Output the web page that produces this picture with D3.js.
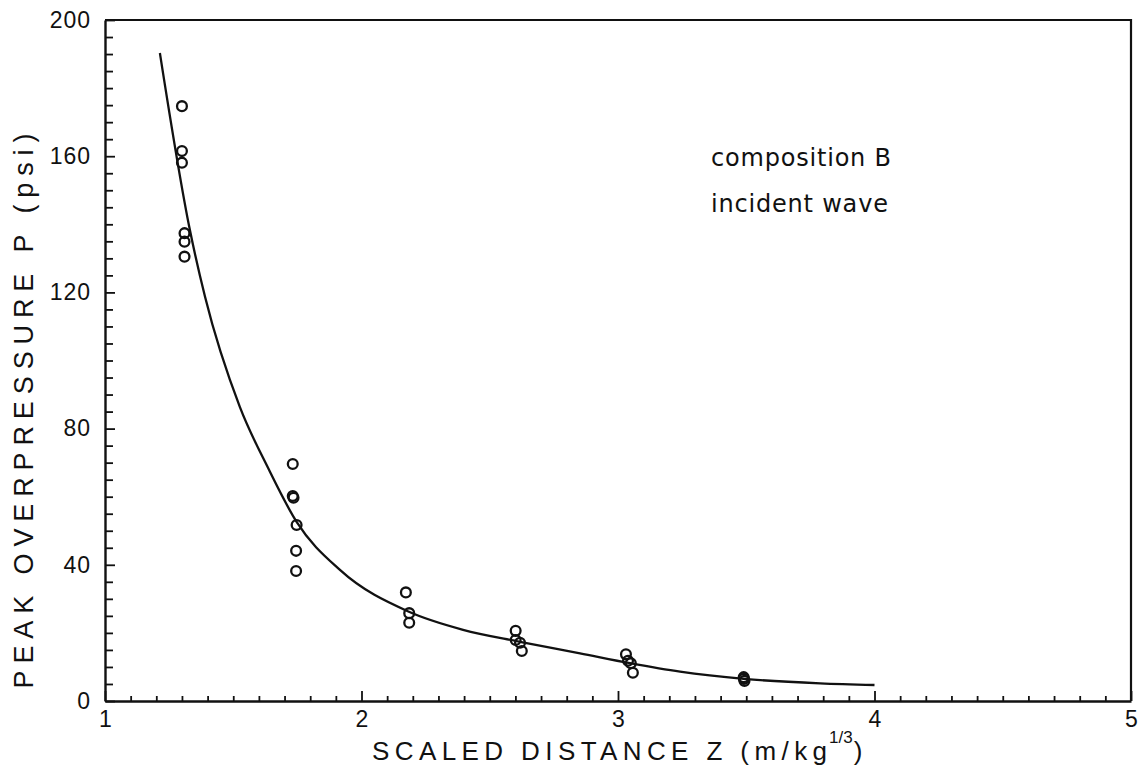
<!DOCTYPE html>
<html>
<head>
<meta charset="utf-8">
<script src="https://cdn.jsdelivr.net/npm/d3@7"></script>
<style>
  html, body { margin: 0; padding: 0; background: #fff; }
  svg { display: block; }
</style>
</head>
<body>
<svg id="chart" width="1145" height="784"></svg>
<script>
// ---- data ----
const xMajorTicks = [1, 2, 3, 4, 5];
const yMajorTicks = [0, 40, 80, 120, 160, 200];

const pointZ = [1.30, 1.30, 1.30, 1.31, 1.31, 1.31,
                1.732, 1.732, 1.735, 1.747, 1.745, 1.745,
                2.173, 2.186, 2.186,
                2.601, 2.601, 2.618, 2.625,
                3.031, 3.039, 3.050, 3.058,
                3.490, 3.491, 3.493];
const pointP = [174.7, 161.5, 158.1, 137.4, 134.9, 130.5,
                69.6, 60.2, 59.7, 51.7, 44.1, 38.2,
                31.9, 25.8, 23.0,
                20.6, 17.9, 17.1, 14.7,
                13.7, 11.8, 11.1, 8.3,
                7.0, 6.5, 5.9];

// fitted curve, read at points along the drawn line
const curveZ = [1.214, 1.331, 1.390, 1.526, 1.636, 1.747, 1.916, 2.185, 2.396,
                2.618, 2.852, 3.047, 3.242, 3.491, 3.788, 4.0];
const curveP = [190.3, 138.3, 118.7, 86.3, 68.4, 52.6, 38.5, 26.2, 20.9,
                17.4, 14.0, 11.1, 8.6, 6.5, 5.2, 4.7];

const annotation = ["composition B", "incident wave"];
const xTitle = "SCALED DISTANCE Z (m/kg";
const xTitleSup = "1/3";
const yTitle = "PEAK OVERPRESSURE P (psi)";

// ---- layout ----
const svg = d3.select("#chart");
const mLeft = 105, mRight = 1131, mTop = 20, mBottom = 701;

const x = d3.scaleLinear().domain([1, 5]).range([mLeft, mRight]);
const y = d3.scaleLinear().domain([0, 200]).range([mBottom, mTop]);

const ink = "#111";
const labelFont = "'Liberation Sans', Arial, sans-serif";

// frame (top and right lines)
svg.append("path")
  .attr("d", `M${mLeft},${mTop}H${mRight}V${mBottom}`)
  .attr("fill", "none").attr("stroke", ink).attr("stroke-width", 2.2);

// x axis: minor ticks
const xMinor = d3.range(10, 51).map(d => d / 10).filter(d => !xMajorTicks.includes(d));
svg.append("g").attr("transform", `translate(0,${mBottom})`)
  .call(d3.axisBottom(x).tickValues(xMinor).tickSizeInner(-5).tickSizeOuter(0).tickFormat(""))
  .call(g => g.select(".domain").remove())
  .call(g => g.selectAll("line").attr("stroke", ink).attr("stroke-width", 1.8));
// x axis: major ticks + labels
svg.append("g").attr("transform", `translate(0,${mBottom})`)
  .call(d3.axisBottom(x).tickValues(xMajorTicks).tickSizeInner(-10).tickSizeOuter(0).tickPadding(10).tickFormat(d3.format("d")))
  .call(g => g.select(".domain").attr("stroke", ink).attr("stroke-width", 2.4))
  .call(g => g.selectAll("line").attr("stroke", ink).attr("stroke-width", 1.8))
  .call(g => g.selectAll("text").attr("fill", ink).attr("font-family", labelFont).attr("font-size", 23));

// y axis: minor ticks
const yMinor = d3.range(0, 201, 5).filter(d => !yMajorTicks.includes(d));
svg.append("g").attr("transform", `translate(${mLeft},0)`)
  .call(d3.axisLeft(y).tickValues(yMinor).tickSizeInner(-8).tickSizeOuter(0).tickFormat(""))
  .call(g => g.select(".domain").remove())
  .call(g => g.selectAll("line").attr("stroke", ink).attr("stroke-width", 1.8));
// y axis: major ticks + labels
svg.append("g").attr("transform", `translate(${mLeft},0)`)
  .call(d3.axisLeft(y).tickValues(yMajorTicks).tickSizeInner(-10).tickSizeOuter(0).tickPadding(14).tickFormat(d3.format("d")))
  .call(g => g.select(".domain").attr("stroke", ink).attr("stroke-width", 2.4))
  .call(g => g.selectAll("line").attr("stroke", ink).attr("stroke-width", 1.8))
  .call(g => g.selectAll("text").attr("fill", ink).attr("font-family", labelFont)
    .attr("font-size", 23).attr("letter-spacing", 1));

// fitted curve
const line = d3.line()
  .x((d, i) => x(curveZ[i]))
  .y((d, i) => y(curveP[i]))
  .curve(d3.curveMonotoneX);
svg.append("path")
  .datum(curveZ)
  .attr("d", line)
  .attr("fill", "none").attr("stroke", ink).attr("stroke-width", 2.3);

// data points
svg.append("g").selectAll("circle")
  .data(pointZ)
  .join("circle")
  .attr("cx", (d, i) => x(pointZ[i]))
  .attr("cy", (d, i) => y(pointP[i]))
  .attr("r", 4.9)
  .attr("fill", "none").attr("stroke", ink).attr("stroke-width", 2.3);

// annotation
svg.append("g").selectAll("text")
  .data(annotation)
  .join("text")
  .attr("x", 711)
  .attr("y", (d, i) => 166 + i * 46)
  .attr("font-family", "'DejaVu Sans', sans-serif")
  .attr("font-size", 24)
  .attr("fill", ink)
  .attr("letter-spacing", 0.8)
  .text(d => d);

// x axis title
const xtStart = 372, xtLen = 455, xtBase = 760;
svg.append("text")
  .attr("x", xtStart).attr("y", xtBase)
  .attr("font-family", labelFont)
  .attr("font-size", 26)
  .attr("textLength", xtLen)
  .attr("lengthAdjust", "spacing")
  .attr("fill", ink)
  .text(xTitle);
const sup = svg.append("text")
  .attr("x", xtStart + xtLen + 2).attr("y", xtBase - 17)
  .attr("font-family", labelFont)
  .attr("font-size", 17)
  .attr("fill", ink)
  .text(xTitleSup);
const supW = sup.node().getComputedTextLength();
svg.append("text")
  .attr("x", xtStart + xtLen + 3 + supW).attr("y", xtBase)
  .attr("font-family", labelFont)
  .attr("font-size", 26)
  .attr("fill", ink)
  .text(")");

// y axis title
svg.append("text")
  .attr("transform", "translate(33,411) rotate(-90)")
  .attr("text-anchor", "middle")
  .attr("font-family", labelFont)
  .attr("font-size", 27)
  .attr("textLength", 555)
  .attr("lengthAdjust", "spacing")
  .attr("fill", ink)
  .text(yTitle);
</script>
</body>
</html>
